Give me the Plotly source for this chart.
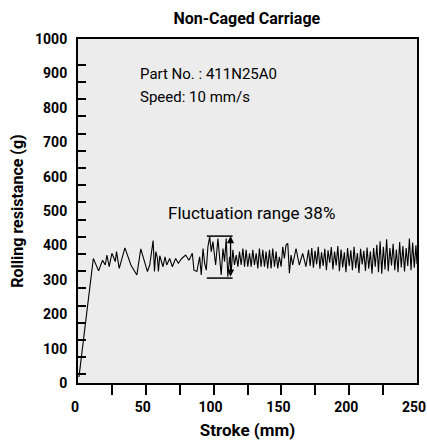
import plotly.graph_objects as go

# ---- data ----
stroke_mm = [
    0.7, 11.3, 15.2, 18.1, 20.1, 21.3, 23.0, 25.0, 27.5, 28.4, 30.4, 34.6, 39.0, 43.4, 46.3,
    51.2, 52.9, 55.4, 56.4, 57.4, 58.6, 59.3, 60.3, 61.5, 62.7, 64.2, 65.4, 67.6, 69.6, 72.0,
    74.0, 76.5, 79.4, 81.8, 84.3, 85.5, 87.7, 89.7, 90.9, 92.2, 93.4, 94.6, 95.8, 97.1, 98.3,
    99.5, 101.5, 103.2, 105.6, 106.9, 108.1, 109.3, 110.5, 111.8, 113.0, 114.2, 115.4, 116.7,
    117.9, 119.1, 120.3, 121.6, 122.8, 124.0, 125.2, 126.5, 127.7, 128.9, 130.1, 131.4, 132.6,
    133.8, 135.0, 136.3, 137.5, 138.7, 139.9, 141.2, 142.4, 143.6, 144.9, 146.1, 147.3, 148.5,
    149.8, 151.0, 152.2, 153.4, 154.7, 155.9, 157.1, 158.3, 160.8, 163.2, 165.7, 168.1, 170.0,
    171.2, 172.4, 173.6, 174.8, 176.0, 177.2, 178.4, 179.6, 180.8, 182.0, 183.2, 184.4, 185.6,
    186.8, 188.0, 189.2, 190.4, 191.6, 192.8, 194.0, 195.2, 196.4, 197.6, 198.8, 200.0, 201.2,
    202.4, 203.6, 204.8, 206.0, 207.2, 208.4, 209.6, 210.8, 212.0, 213.2, 214.4, 215.6, 216.8,
    218.0, 219.2, 220.4, 221.6, 222.8, 224.0, 225.2, 226.4, 227.6, 228.8, 230.0, 231.2, 232.4,
    233.6, 234.8, 236.0, 237.2, 238.4, 239.6, 240.8, 242.0, 243.2, 244.4, 245.6, 246.8, 248.0,
    249.2, 250.0,
]
resistance_g = [
    17, 362, 326, 357, 343, 372, 338, 377, 353, 382, 333, 393, 343, 314, 390,
    324, 343, 414, 324, 382, 362, 324, 370, 353, 338, 367, 343, 362, 338, 362,
    348, 362, 372, 357, 377, 328, 324, 367, 314, 391, 348, 328, 396, 425, 382,
    411, 343, 420, 314, 391, 353, 420, 309, 367, 324, 387, 343, 372,
    338, 382, 343, 391, 338, 387, 338, 377, 338, 387, 343, 377, 333,
    391, 338, 387, 338, 382, 333, 387, 333, 391, 338, 382, 333, 367,
    338, 396, 362, 401, 406, 319, 372, 343, 391, 343, 377, 338, 387,
    340, 392, 335, 384, 345, 396, 332, 380, 340, 390, 328, 386, 350,
    395, 330, 382, 342, 398, 325, 388, 336, 380, 322, 392, 340, 386,
    328, 396, 334, 378, 320, 390, 345, 384, 326, 394, 332, 382, 318,
    392, 338, 402, 322, 412, 318, 396, 330, 418, 325, 392, 342, 405,
    328, 388, 322, 410, 336, 398, 324, 392, 340, 420, 328, 408, 335,
    400, 345,
]

x_label_vals = [0, 50, 100, 150, 200, 250]
y_label_vals = [0, 100, 200, 300, 400, 500, 600, 700, 800, 900, 1000]
x_minor_ticks = [25, 50, 75, 100, 125, 150, 175, 200, 225]
y_minor_ticks = [25, 75, 125, 175, 225, 275, 325, 375, 425, 475, 525, 575, 625, 675,
                 725, 775, 825, 875, 925]

fluct_x0, fluct_x1, fluct_arrow_x = 95, 114, 112.5
fluct_top, fluct_bottom = 427, 305

FONT = "Roboto, Liberation Sans, sans-serif"

fig = go.Figure()
fig.add_trace(go.Scatter(
    x=stroke_mm, y=resistance_g, mode="lines",
    line=dict(color="black", width=1.1), showlegend=False, hoverinfo="skip",
))

# fluctuation range markers
for yv in (fluct_top, fluct_bottom):
    fig.add_shape(type="line", xref="x", yref="y", x0=fluct_x0, x1=fluct_x1, y0=yv, y1=yv,
                  line=dict(color="black", width=1.5))
fig.add_annotation(x=fluct_arrow_x, y=fluct_top, ax=fluct_arrow_x, ay=fluct_bottom,
                   xref="x", yref="y", axref="x", ayref="y", text="", showarrow=True,
                   arrowhead=2, arrowside="end+start", arrowsize=1.1, arrowwidth=1.3,
                   arrowcolor="black", standoff=0, startstandoff=0)

fig.add_annotation(x=0.177, y=0.898, xref="paper", yref="paper", xanchor="left", yanchor="middle",
                   text="Part No. : 411N25A0", showarrow=False,
                   font=dict(family=FONT, size=15, color="black"))
fig.add_annotation(x=0.177, y=0.831, xref="paper", yref="paper", xanchor="left", yanchor="middle",
                   text="Speed: 10 mm/s", showarrow=False,
                   font=dict(family=FONT, size=15, color="black"))
fig.add_annotation(x=0.513, y=0.494, xref="paper", yref="paper", xanchor="center", yanchor="middle",
                   text="Fluctuation range 38%", showarrow=False,
                   font=dict(family=FONT, size=17, color="black"))

fig.update_layout(
    width=427, height=447,
    margin=dict(l=78, r=10, t=39, b=64, autoexpand=False),
    paper_bgcolor="white", plot_bgcolor="#ececec",
    title=dict(text="<b>Non-Caged Carriage</b>", x=0.578, xref="container", xanchor="center",
               y=1 - 18 / 447, yref="container", yanchor="middle",
               font=dict(family=FONT, size=16, color="black")),
    font=dict(family=FONT, color="black"),
)
fig.update_xaxes(
    range=[0, 250], tickvals=x_label_vals, ticktext=[f"<b>{v}</b>" for v in x_label_vals],
    ticks="outside", ticklen=10, tickcolor="rgba(0,0,0,0)",
    showgrid=False, zeroline=False, automargin=False,
    ticklabeloverflow="allow", ticklabelshift=-3,
    showline=True, linecolor="black", linewidth=2, mirror=True,
    tickfont=dict(family=FONT, size=14, color="black", weight=700),
    minor=dict(tickvals=x_minor_ticks, ticks="outside", ticklen=10, tickcolor="black",
               tickwidth=1.5, showgrid=False),
    title=dict(text="<b>Stroke (mm)</b>", font=dict(family=FONT, size=17, color="black"),
               standoff=10),
)
fig.update_yaxes(
    range=[0, 1000], tickvals=y_label_vals, ticktext=[f"<b>{v}</b>" for v in y_label_vals],
    ticks="outside", ticklen=6, tickcolor="rgba(0,0,0,0)",
    showgrid=False, zeroline=False, automargin=False,
    ticklabeloverflow="allow",
    showline=True, linecolor="black", linewidth=2, mirror=True,
    tickfont=dict(family=FONT, size=14, color="black", weight=700),
    minor=dict(tickvals=y_minor_ticks, ticks="inside", ticklen=8, tickcolor="black",
               tickwidth=1.5, showgrid=False),
    title=dict(text="<b>Rolling resistance (g)</b>", font=dict(family=FONT, size=16, color="black"),
               standoff=7),
)

fig.write_html("out.html", post_script="document.body.style.margin='0';",
               config={"displayModeBar": False})
